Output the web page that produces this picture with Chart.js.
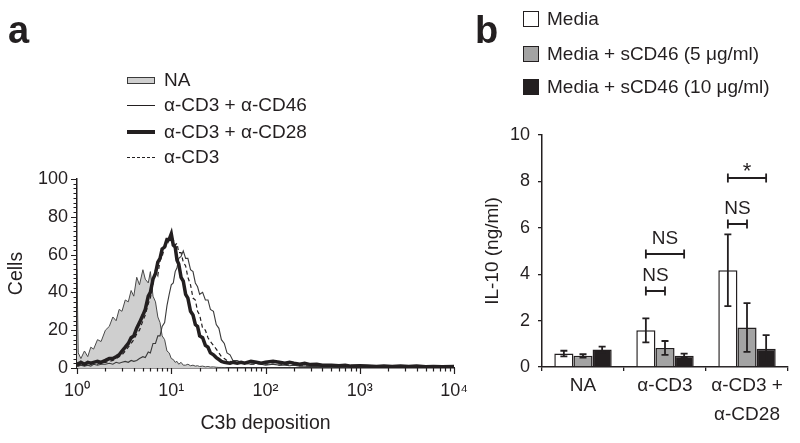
<!DOCTYPE html>
<html>
<head>
<meta charset="utf-8">
<title>C3b deposition and IL-10</title>
<script src="https://cdn.jsdelivr.net/npm/chart.js@4.4.1/dist/chart.umd.min.js"></script>
<style>
  body { margin: 0; background: #fff; font-family: "Liberation Sans", Arial, sans-serif; color: #231f20; }
  #figure { position: relative; width: 800px; height: 443px; overflow: hidden; }
  canvas { position: absolute; top: 0; }
  #histChart { left: 0; }
  #il10Chart { left: 480px; }
  .panel-letter { position: absolute; top: 11px; font-weight: bold; font-size: 38px; line-height: 1; }
  .legend-row { position: absolute; height: 20px; display: flex; align-items: center; white-space: nowrap; font-size: 19px; }
  .sym { position: absolute; box-sizing: border-box; }
  .legend-text { position: absolute; }
</style>
</head>
<body>
<div id="figure">
  <canvas id="histChart" width="480" height="443"></canvas>
  <canvas id="il10Chart" width="320" height="443"></canvas>

  <div class="panel-letter" style="left:8px">a</div>
  <div class="panel-letter" style="left:475px">b</div>

  <!-- legend a -->
  <div class="legend-row" style="left:127px; top:70px; width:280px">
    <div class="sym" style="left:0; width:28px; height:7px; background:#cfcfcf; border:1px solid #3a3a3a"></div>
    <div class="legend-text" style="left:37px">NA</div>
  </div>
  <div class="legend-row" style="left:127px; top:95px; width:280px">
    <div class="sym" style="left:0; width:28px; border-top:1.2px solid #231f20"></div>
    <div class="legend-text" style="left:37px">α-CD3 + α-CD46</div>
  </div>
  <div class="legend-row" style="left:127px; top:122px; width:280px">
    <div class="sym" style="left:0; width:28px; border-top:4px solid #231f20"></div>
    <div class="legend-text" style="left:37px">α-CD3 + α-CD28</div>
  </div>
  <div class="legend-row" style="left:127px; top:147px; width:280px">
    <div class="sym" style="left:0; width:28px; border-top:1.5px dashed #231f20"></div>
    <div class="legend-text" style="left:37px">α-CD3</div>
  </div>

  <!-- legend b -->
  <div class="legend-row" style="left:523px; top:9px; width:277px">
    <div class="sym" style="left:0; top:2px; width:16px; height:16px; background:#fff; border:1.5px solid #231f20"></div>
    <div class="legend-text" style="left:24px">Media</div>
  </div>
  <div class="legend-row" style="left:523px; top:44px; width:277px">
    <div class="sym" style="left:0; top:2px; width:16px; height:16px; background:#a3a3a3; border:1.5px solid #231f20"></div>
    <div class="legend-text" style="left:24px">Media + sCD46 (5 μg/ml)</div>
  </div>
  <div class="legend-row" style="left:523px; top:77px; width:277px">
    <div class="sym" style="left:0; top:2px; width:16px; height:16px; background:#231f20; border:1.5px solid #231f20"></div>
    <div class="legend-text" style="left:24px">Media + sCD46 (10 μg/ml)</div>
  </div>
</div>

<script>
// --- panel a: flow cytometry histograms ---
const channels = [
  1, 1.03, 1.1, 1.2, 1.3, 1.4, 1.5, 1.65, 1.8, 2,
  2.2, 2.4, 2.6, 2.8, 3, 3.25, 3.5, 3.75, 4, 4.3,
  4.6, 5, 5.3, 5.7, 6, 6.4, 6.8, 7.2, 7.6, 8,
  8.5, 9, 9.5, 10, 10.5, 11, 11.5, 12, 12.7, 13.4,
  14.2, 15, 16, 17, 18, 19, 20, 21.5, 23, 24.5,
  26, 28, 30, 32, 34, 36.5, 39, 42, 45, 50,
  55, 60, 70, 80, 90, 100, 120, 140, 160, 180,
  200, 230, 260, 300, 350, 400, 500, 600, 700, 800,
  1000, 1200, 1500, 1800, 2200, 2700, 3300, 4000, 5000, 6000,
  7500, 10000
];
const naCells = [
  52, 8, 5, 9, 6, 11, 10, 15, 14, 20,
  22, 27, 25, 31, 30, 36, 35, 41, 38, 48,
  44, 52, 47, 45, 51, 38, 35, 27, 24, 17,
  15, 9, 8, 5, 4.5, 3, 3.5, 2, 3, 1.5,
  1.5, 2, 1.2, 1.5, 1, 1.2, 0.8, 1, 0.6, 0.8,
  0.5, 0.6, 0.4, 0.3, 0.3, 0.2, 0, 0, 0, 0,
  0, 0, 0, 0, 0, 0, 0, 0, 0, 0,
  0, 0, 0, 0, 0, 0, 0, 0, 0, 0,
  0, 0, 0, 0, 0, 0, 0, 0, 0, 0,
  0, 0
];
const cd46Cells = [
  1, 1, 1.5, 1, 1.5, 1, 2, 1.5, 2, 2,
  2.5, 2, 3, 2.5, 3, 3.5, 3, 4, 3.5, 4,
  5, 6, 5.5, 8.5, 8, 13, 13, 17, 17, 22,
  24, 33, 39, 44, 45, 51, 53, 58, 59, 62,
  58, 58, 52, 51, 45, 43, 39, 40, 36, 36,
  31, 30, 23, 21, 15, 13, 8, 7, 4, 4,
  3, 2.5, 2, 2.5, 2, 1.5, 2, 1.5, 1.5, 1.2,
  1.5, 1, 1, 0.8, 1, 0.8, 0.6, 0.6, 0.5, 0.6,
  0.5, 0.4, 0.5, 0.4, 0.3, 0.4, 0.3, 0.3, 0.3, 0.2,
  0.3, 0.2
];
const cd28Cells = [
  3, 2, 3, 2, 3, 2.5, 3, 3.5, 3, 4,
  5, 5, 6, 7, 9, 11, 13, 16, 17, 21,
  24, 28, 31, 38, 40, 47, 50, 56, 58, 63,
  64, 68, 68, 71, 65, 64, 57, 55, 48, 46,
  39, 37, 30, 28, 23, 22, 17, 16, 12, 11,
  8, 7, 5.5, 4.5, 3.5, 3, 2.8, 2.5, 3, 2.5,
  3, 2.5, 3.5, 3, 2.5, 3, 3.5, 3, 2.5, 3,
  2.5, 2, 2.5, 1.8, 2, 1.5, 1.5, 1.2, 1.5, 1,
  1.2, 1, 0.8, 1, 0.8, 1, 0.8, 1, 0.7, 0.8,
  0.6, 0.8
];
const cd3Cells = [
  2, 1.5, 2, 1.5, 2, 2, 2.5, 2, 3, 3,
  3.5, 4, 5, 6, 7, 9, 11, 13, 15, 18,
  20, 25, 28, 34, 37, 45, 52, 49, 57, 59,
  64, 65, 68, 67, 68, 65, 66, 61, 61, 56,
  54, 48, 44, 37, 36, 30, 28, 21, 20, 16,
  14, 12, 10, 8, 6, 5, 4, 3.5, 3, 2.5,
  2.5, 2.5, 2, 2, 2.5, 2, 2, 1.5, 2, 1.5,
  1.5, 1.2, 1.2, 1, 1, 0.8, 0.8, 0.7, 0.7, 0.6,
  0.6, 0.5, 0.5, 0.5, 0.4, 0.4, 0.4, 0.3, 0.3, 0.3,
  0.3, 0.3
];
const decadeTicks = [1, 10, 100, 1000, 10000];
const cellTicks = [0, 20, 40, 60, 80, 100];

// --- panel b: IL-10 bars ---
const groups = [['NA'], ['α-CD3'], ['α-CD3 +', 'α-CD28']];
const media = [0.58, 1.58, 4.17];
const media5 = [0.48, 0.82, 1.70];
const media10 = [0.75, 0.49, 0.79];
const mediaErr = [0.12, 0.52, 1.55];
const media5Err = [0.07, 0.30, 1.05];
const media10Err = [0.13, 0.09, 0.58];
const sigBrackets = [
  { group: 1, from: 0, to: 1, level: 3.27, label: 'NS' },
  { group: 1, from: 0, to: 2, level: 4.86, label: 'NS' },
  { group: 2, from: 0, to: 1, level: 6.16, label: 'NS' },
  { group: 2, from: 0, to: 2, level: 8.13, label: '*' }
];

const ink = '#231f20';
const family = '"Liberation Sans", Arial, sans-serif';
const sup = ['\u2070', '\u00b9', '\u00b2', '\u00b3', '\u2074'];

const toPoints = (vals) => channels.map((x, i) => ({ x, y: vals[i] }));

// minor + major tick marks for the histogram axes
const histTickPlugin = {
  id: 'histTicks',
  afterDraw(chart) {
    const { ctx, scales: { x, y } } = chart;
    ctx.save();
    ctx.strokeStyle = ink;
    ctx.lineWidth = 1.2;
    ctx.beginPath();
    for (let d = 0; d < 4; d++) {
      for (let m = 1; m <= 9; m++) {
        const px = Math.round(x.getPixelForValue(m * Math.pow(10, d))) + 0.5;
        const len = m === 1 ? 6 : 3.5;
        ctx.moveTo(px, y.bottom);
        ctx.lineTo(px, y.bottom + len);
      }
    }
    const pEnd = Math.round(x.getPixelForValue(10000)) + 0.5;
    ctx.moveTo(pEnd, y.bottom);
    ctx.lineTo(pEnd, y.bottom + 6);
    for (let v = 0; v <= 100; v += 2.5) {
      const py = Math.round(y.getPixelForValue(v)) + 0.5;
      const len = v % 20 === 0 ? 6 : 3.5;
      ctx.moveTo(x.left - len, py);
      ctx.lineTo(x.left, py);
    }
    ctx.stroke();
    ctx.restore();
  }
};

const errorBarPlugin = {
  id: 'errorBars',
  afterDatasetsDraw(chart) {
    const { ctx, scales: { y } } = chart;
    ctx.save();
    ctx.strokeStyle = ink;
    ctx.lineWidth = 1.8;
    chart.data.datasets.forEach((ds, i) => {
      chart.getDatasetMeta(i).data.forEach((bar, j) => {
        const v = ds.data[j], e = ds.errors[j];
        const top = y.getPixelForValue(v + e);
        const bot = y.getPixelForValue(Math.max(v - e, 0));
        ctx.beginPath();
        ctx.moveTo(bar.x, top); ctx.lineTo(bar.x, bot);
        ctx.moveTo(bar.x - 3.5, top); ctx.lineTo(bar.x + 3.5, top);
        ctx.moveTo(bar.x - 3.5, bot); ctx.lineTo(bar.x + 3.5, bot);
        ctx.stroke();
      });
    });
    ctx.restore();
  }
};

const bracketPlugin = {
  id: 'sigBrackets',
  afterDatasetsDraw(chart) {
    const { ctx, scales: { y } } = chart;
    ctx.save();
    ctx.strokeStyle = ink;
    ctx.fillStyle = ink;
    ctx.lineWidth = 1.8;
    ctx.textAlign = 'center';
    ctx.textBaseline = 'alphabetic';
    sigBrackets.forEach(b => {
      const x1 = chart.getDatasetMeta(b.from).data[b.group].x;
      const x2 = chart.getDatasetMeta(b.to).data[b.group].x;
      const py = Math.round(y.getPixelForValue(b.level));
      ctx.beginPath();
      ctx.moveTo(x1, py); ctx.lineTo(x2, py);
      ctx.moveTo(x1, py - 4.5); ctx.lineTo(x1, py + 4.5);
      ctx.moveTo(x2, py - 4.5); ctx.lineTo(x2, py + 4.5);
      ctx.stroke();
      const star = b.label === '*';
      ctx.font = (star ? '22px ' : '19px ') + family;
      ctx.fillText(b.label, (x1 + x2) / 2, py - (star ? 0 : 10));
    });
    ctx.restore();
  }
};

new Chart(document.getElementById('histChart'), {
  type: 'line',
  data: {
    datasets: [
      { label: 'NA', data: toPoints(naCells), borderColor: '#4a4a4a', borderWidth: 1,
        backgroundColor: '#cfcfcf', fill: 'origin', order: 4 },
      { label: 'α-CD3', data: toPoints(cd3Cells), borderColor: ink, borderWidth: 1.2,
        borderDash: [4, 3], fill: false, order: 3 },
      { label: 'α-CD3 + α-CD46', data: toPoints(cd46Cells), borderColor: '#3a3a3a', borderWidth: 1.1,
        fill: false, order: 2 },
      { label: 'α-CD3 + α-CD28', data: toPoints(cd28Cells), borderColor: ink, borderWidth: 3.5,
        fill: false, order: 1 }
    ]
  },
  options: {
    responsive: false,
    animation: false,
    layout: { padding: { top: 179, right: 18, bottom: 0, left: 0 } },
    elements: { point: { radius: 0 }, line: { tension: 0 } },
    plugins: { legend: { display: false }, tooltip: { enabled: false } },
    scales: {
      x: {
        type: 'logarithmic',
        min: 1,
        max: 10000,
        afterBuildTicks: (scale) => { scale.ticks = decadeTicks.map(v => ({ value: v })); },
        afterFit: (scale) => { scale.height = 75; },
        grid: { display: false, drawTicks: false },
        border: { color: ink, width: 1.5 },
        ticks: {
          color: ink, padding: 12, autoSkip: false, maxRotation: 0,
          font: { size: 18, family },
          callback: (v) => '10' + sup[Math.round(Math.log10(v))]
        },
        title: { display: true, text: 'C3b deposition', color: ink,
          font: { size: 19.5, family }, padding: { top: 0, bottom: 8 } }
      },
      y: {
        min: 0,
        max: 100,
        afterBuildTicks: (scale) => { scale.ticks = cellTicks.map(v => ({ value: v })); },
        afterFit: (scale) => { scale.width = 77; },
        grid: { display: false, drawTicks: false },
        border: { color: ink, width: 1.5 },
        ticks: { color: ink, padding: 9, font: { size: 18, family } },
        title: { display: true, text: 'Cells', color: ink,
          font: { size: 19.5, family }, padding: { top: 5, bottom: 0 } }
      }
    }
  },
  plugins: [histTickPlugin]
});

new Chart(document.getElementById('il10Chart'), {
  type: 'bar',
  data: {
    labels: groups,
    datasets: [
      { label: 'Media', data: media, errors: mediaErr, backgroundColor: '#ffffff',
        borderColor: ink, borderWidth: 1.5 },
      { label: 'Media + sCD46 (5 μg/ml)', data: media5, errors: media5Err, backgroundColor: '#a3a3a3',
        borderColor: ink, borderWidth: 1.5 },
      { label: 'Media + sCD46 (10 μg/ml)', data: media10, errors: media10Err, backgroundColor: ink,
        borderColor: ink, borderWidth: 1.5 }
    ]
  },
  options: {
    responsive: false,
    animation: false,
    layout: { padding: { top: 135, right: 12, bottom: 0, left: 0 } },
    datasets: { bar: { categoryPercentage: 0.7, barPercentage: 1.0 } },
    plugins: { legend: { display: false }, tooltip: { enabled: false } },
    scales: {
      x: {
        afterFit: (scale) => { scale.height = 76; },
        grid: { offset: true, drawOnChartArea: false, tickLength: 4, color: ink, lineWidth: 1.3 },
        border: { color: ink, width: 1.5 },
        ticks: { color: ink, padding: 0, autoSkip: false, maxRotation: 0,
          font: { size: 19, family, lineHeight: 1.55 } }
      },
      y: {
        min: 0,
        max: 10,
        afterFit: (scale) => { scale.width = 62; },
        grid: { drawOnChartArea: false, tickLength: 4, color: ink, lineWidth: 1.3 },
        border: { color: ink, width: 1.5 },
        ticks: { stepSize: 2, color: ink, padding: 8, font: { size: 18, family } },
        title: { display: true, text: 'IL-10 (ng/ml)', color: ink,
          font: { size: 19, family }, padding: { top: 1, bottom: 0 } }
      }
    }
  },
  plugins: [errorBarPlugin, bracketPlugin]
});
</script>
</body>
</html>
